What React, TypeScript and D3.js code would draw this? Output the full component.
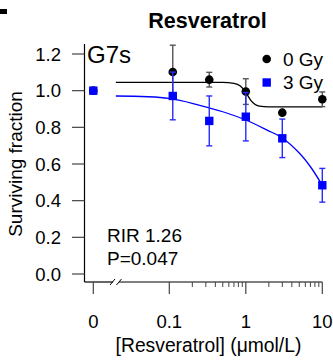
import React from "react";
import * as d3 from "d3";

const doses = [0, 0.111, 0.333, 1, 3, 10];
const gy0Mean = [1.0, 1.102, 1.06, 0.995, 0.88, 0.953];
const gy0Err = [0.0, 0.146, 0.04, 0.07, 0.01, 0.04];
const gy3Mean = [1.0, 0.971, 0.835, 0.858, 0.74, 0.484];
const gy3Err = [0.0, 0.13, 0.136, 0.132, 0.105, 0.092];

const fit0X = [0.02, 0.5, 0.7, 0.85, 1.0, 1.15, 1.3, 1.5, 2, 10];
const fit0Y = [1.045, 1.045, 1.04, 1.025, 0.99, 0.95, 0.927, 0.916, 0.912, 0.912];
const fit3X = [0.02, 0.1, 0.25, 0.5, 1, 1.9, 3, 5, 7, 10];
const fit3Y = [0.971, 0.958, 0.92, 0.885, 0.84, 0.785, 0.742, 0.66, 0.585, 0.484];

const yTicks = [0, 0.2, 0.4, 0.6, 0.8, 1.0, 1.2];
const xTickVals = [0.1, 1, 10];
const xTickLabels = ["0.1", "1", "10"];
const minorTicks = [0.2, 0.3, 0.4, 0.5, 0.6, 0.7, 0.8, 0.9, 2, 3, 4, 5, 6, 7, 8, 9];

const FONT = "'Liberation Sans', Arial, sans-serif";

export default function App() {
  const y = d3.scaleLinear().domain([0, 1.2]).range([274, 54]);
  const xl = d3.scaleLog().domain([0.1, 10]).range([169.3, 322.3]);
  const xZero = 93.3;
  const xPos = (d: number) => (d === 0 ? xZero : xl(d));
  const axisY = 282;
  const axisX = 84.5;

  const line0 = d3
    .line<[number, number]>()
    .x((d) => xl(d[0]))
    .y((d) => y(d[1]))
    .curve(d3.curveMonotoneX);
  const line3 = d3
    .line<[number, number]>()
    .x((d) => xl(d[0]))
    .y((d) => y(d[1]))
    .curve(d3.curveCatmullRom.alpha(0.5));

  const fit0 = fit0X.map((v, i) => [v, fit0Y[i]] as [number, number]);
  const fit3 = fit3X.map((v, i) => [v, fit3Y[i]] as [number, number]);

  const errBar = (i: number, mean: number[], err: number[], color: string) => {
    if (err[i] <= 0) return null;
    const cx = xPos(doses[i]);
    const t = y(mean[i] + err[i]);
    const b = y(mean[i] - err[i]);
    return (
      <g key={"e" + color + i} stroke={color} strokeWidth={1.4}>
        <line x1={cx} x2={cx} y1={t} y2={b} />
        <line x1={cx - 3} x2={cx + 3} y1={t} y2={t} />
        <line x1={cx - 3} x2={cx + 3} y1={b} y2={b} />
      </g>
    );
  };

  return (
    <svg
      width={333}
      height={360}
      style={{ position: "absolute", left: 0, top: 0, background: "#fff" }}
      fontFamily={FONT}
    >
      <rect x={0} y={9} width={7} height={5} fill="#000" />
      <text x={207.5} y={28.3} textAnchor="middle" fontWeight="bold" fontSize={21.5}>
        Resveratrol
      </text>
      <text x={87} y={63} fontSize={24}>
        G7s
      </text>

      {/* y axis */}
      <line x1={axisX} x2={axisX} y1={44} y2={axisY} stroke="#000" strokeWidth={1.2} />
      {yTicks.map((t) => (
        <g key={"yt" + t}>
          <line x1={72} x2={axisX} y1={y(t)} y2={y(t)} stroke="#444" strokeWidth={1.2} />
          <text x={61} y={y(t)} dy="0.36em" textAnchor="end" fontSize={18.5}>
            {t.toFixed(1)}
          </text>
        </g>
      ))}
      <text
        transform={`translate(22,${(54 + 274) / 2}) rotate(-90)`}
        textAnchor="middle"
        fontSize={19}
      >
        Surviving fraction
      </text>

      {/* x axis with break */}
      <line x1={axisX} x2={113} y1={axisY} y2={axisY} stroke="#000" strokeWidth={1.2} />
      <line x1={119} x2={xl(10)} y1={axisY} y2={axisY} stroke="#000" strokeWidth={1.2} />
      <line x1={110} x2={115} y1={axisY + 3} y2={axisY - 3} stroke="#000" strokeWidth={1} />
      <line x1={116.5} x2={121.5} y1={axisY + 3} y2={axisY - 3} stroke="#000" strokeWidth={1} />
      <line x1={xZero} x2={xZero} y1={axisY} y2={axisY + 12} stroke="#444" strokeWidth={1.2} />
      <text x={xZero} y={328.3} textAnchor="middle" fontSize={18.5}>
        0
      </text>
      {xTickVals.map((t, i) => (
        <g key={"xt" + t}>
          <line x1={xl(t)} x2={xl(t)} y1={axisY} y2={axisY + 12} stroke="#444" strokeWidth={1.2} />
          <text x={xl(t)} y={328.3} textAnchor="middle" fontSize={18.5}>
            {xTickLabels[i]}
          </text>
        </g>
      ))}
      {minorTicks.map((t) => (
        <line key={"mt" + t} x1={xl(t)} x2={xl(t)} y1={axisY} y2={axisY + 5} stroke="#444" strokeWidth={1} />
      ))}
      <text x={208.5} y={352} textAnchor="middle" fontSize={19.3}>
        [Resveratrol] (μmol/L)
      </text>

      {/* fit curves */}
      <path d={line0(fit0) || ""} fill="none" stroke="#000" strokeWidth={1.3} />
      <path d={line3(fit3) || ""} fill="none" stroke="#0000ff" strokeWidth={1.3} />

      {/* 0 Gy */}
      {doses.map((_, i) => errBar(i, gy0Mean, gy0Err, "#555"))}
      {doses.map((d, i) => (
        <circle key={"c" + i} cx={xPos(d)} cy={y(gy0Mean[i])} r={4.3} fill="#000" />
      ))}
      {/* 3 Gy */}
      {doses.map((_, i) => errBar(i, gy3Mean, gy3Err, "#2a2aff"))}
      {doses.map((d, i) => (
        <rect key={"s" + i} x={xPos(d) - 4.2} y={y(gy3Mean[i]) - 4.2} width={8.4} height={8.4} fill="#0000ff" />
      ))}

      {/* legend */}
      <circle cx={266.7} cy={59} r={4.3} fill="#000" />
      <text x={283} y={59} dy="0.36em" fontSize={19}>
        0 Gy
      </text>
      <rect x={262.5} y={78.3} width={8.4} height={8.4} fill="#0000ff" />
      <text x={283} y={82.5} dy="0.36em" fontSize={19}>
        3 Gy
      </text>

      <text x={107} y={242} fontSize={19}>
        RIR 1.26
      </text>
      <text x={107} y={265} fontSize={19}>
        P=0.047
      </text>
    </svg>
  );
}
